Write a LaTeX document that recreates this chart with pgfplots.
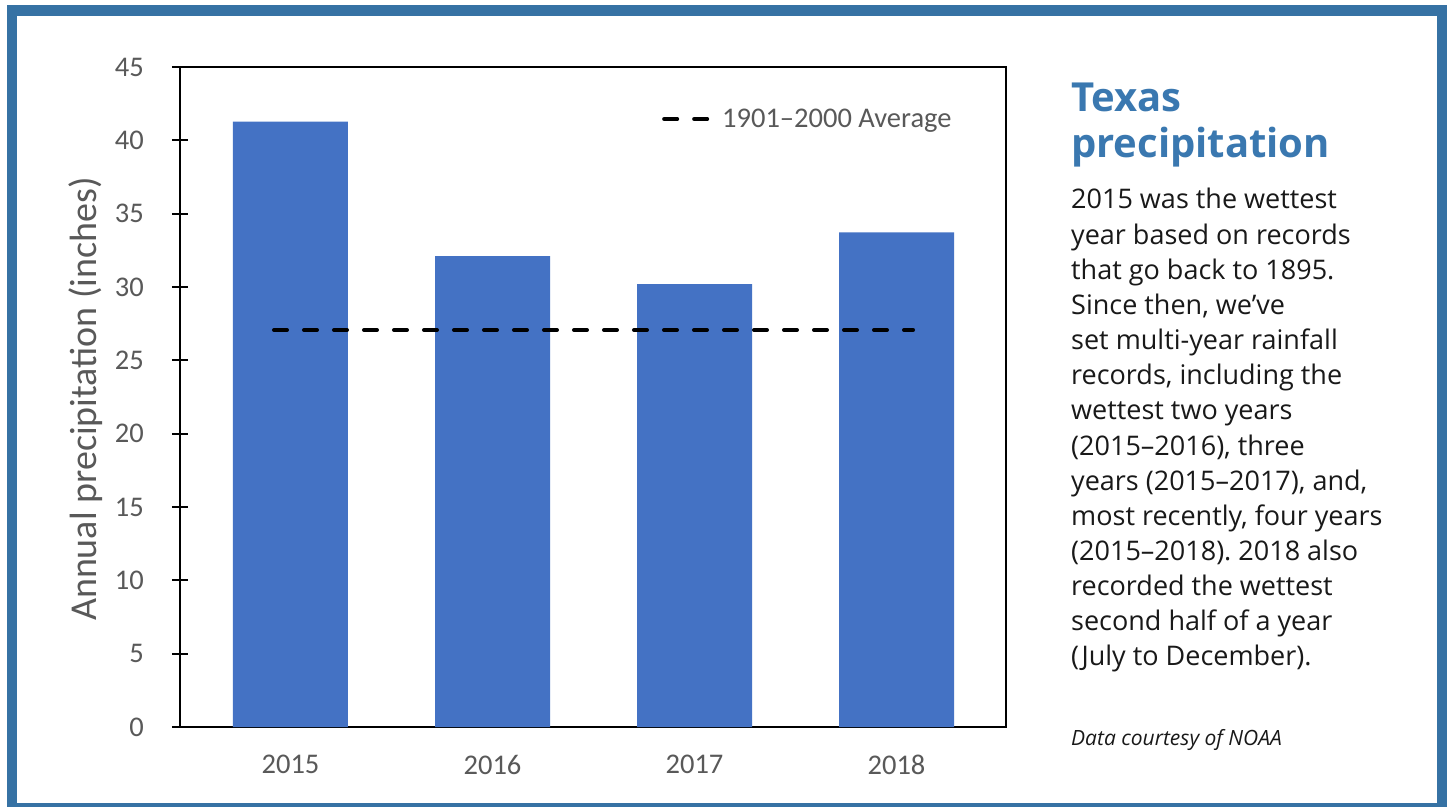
\documentclass[border=0pt]{standalone}
\usepackage{fontspec}
\setmainfont{Carlito}
\newfontfamily\side{Open Sans}
\usepackage{pgfplots}
\pgfplotsset{compat=1.18}
\definecolor{barblue}{HTML}{4472C4}
\definecolor{frameblue}{HTML}{3672A4}
\definecolor{titleblue}{HTML}{3A78B0}
\definecolor{tickgray}{HTML}{595959}
\frenchspacing
\begin{document}
\begin{tikzpicture}
\path[use as bounding box] (-180pt,-79pt) rectangle (1273pt,727pt);
\fill[white] (-180pt,-79pt) rectangle (1273pt,727pt);
\draw[frameblue, line width=10.5pt] (-168pt,-81pt) rectangle (1262pt,716.5pt);
\begin{axis}[
  at={(0pt,0pt)}, anchor=south west,
  scale only axis, width=826pt, height=660pt,
  xmin=-0.547, xmax=3.542, ymin=0, ymax=45,
  xtick={0,1,2,3}, xticklabels={2015,2016,2017,2018},
  ytick={0,5,...,45},
  /pgf/number format/assume math mode=true,
  axis line style={line width=2pt, black},
  ytick pos=left, xtick pos=bottom,
  tick align=center, major tick length=16pt,
  ytick style={line width=2pt, black},
  xtick style={draw=none},
  tick label style={font=\fontsize{28.5}{34}\selectfont, text=tickgray},
  yticklabel style={anchor=east, inner sep=0pt, xshift=-28pt},
  xticklabel style={anchor=north, inner sep=0pt, yshift=-20pt},
  ylabel={Annual precipitation (inches)},
  ylabel style={at={(axis description cs:-0.1005,0.497)}, anchor=base, rotate=0,
    font=\fontsize{38}{44}\selectfont, text=tickgray, inner sep=0pt},
  legend style={at={(axis description cs:0.5835,0.9212)}, anchor=west,
    draw=none, fill=none, inner sep=0pt, nodes={inner sep=0pt},
    font=\fontsize{28.5}{34}\selectfont, text=tickgray},
  legend cell align=left,
  legend image code/.code={
    \draw[#1] (0pt,0pt) -- (43pt,0pt);
    \path[draw=none, fill=none] (0pt,0pt) -- (58pt,0pt);
  },
]
\addplot[ybar, bar width=115pt, fill=barblue, draw=none, forget plot]
  coordinates {(0,41.27) (1,32.1) (2,30.2) (3,33.73)};
\addplot[black, line width=4pt, dash pattern=on 13pt off 17pt, line cap=round]
  coordinates {(-0.0817,27.07) (3.0817,27.07)};
\addlegendentry{1901–2000 Average}
\end{axis}
\node[anchor=base west, inner sep=0pt, text=titleblue, font=\side\bfseries\fontsize{40}{46}\selectfont] at (891pt,615pt) {Texas};
\node[anchor=base west, inner sep=0pt, text=titleblue, font=\side\bfseries\fontsize{40}{46}\selectfont] at (891pt,569pt) {precipitation};
\begin{scope}[every node/.style={anchor=base west, inner sep=0pt, text=black!90, font=\side\fontsize{27}{35}\selectfont}]
\node at (891pt,518pt) {2015 was the wettest};
\node at (891pt,482.85pt) {year based on records};
\node at (891pt,447.7pt) {that go back to 1895.};
\node at (891pt,412.55pt) {Since then, we’ve};
\node at (891pt,377.4pt) {set multi-year rainfall};
\node at (891pt,342.25pt) {records, including the};
\node at (891pt,307.1pt) {wettest two years};
\node at (891pt,271.95pt) {(2015–2016), three};
\node at (891pt,236.8pt) {years (2015–2017), and,};
\node at (891pt,201.65pt) {most recently, four years};
\node at (891pt,166.5pt) {(2015–2018). 2018 also};
\node at (891pt,131.35pt) {recorded the wettest};
\node at (891pt,96.2pt) {second half of a year};
\node at (891pt,61.05pt) {(July to December).};
\end{scope}
\node[anchor=base west, inner sep=0pt, text=black!90, font=\side\itshape\fontsize{21}{25}\selectfont] at (891pt,-18pt) {Data courtesy of NOAA};
\end{tikzpicture}
\end{document}
